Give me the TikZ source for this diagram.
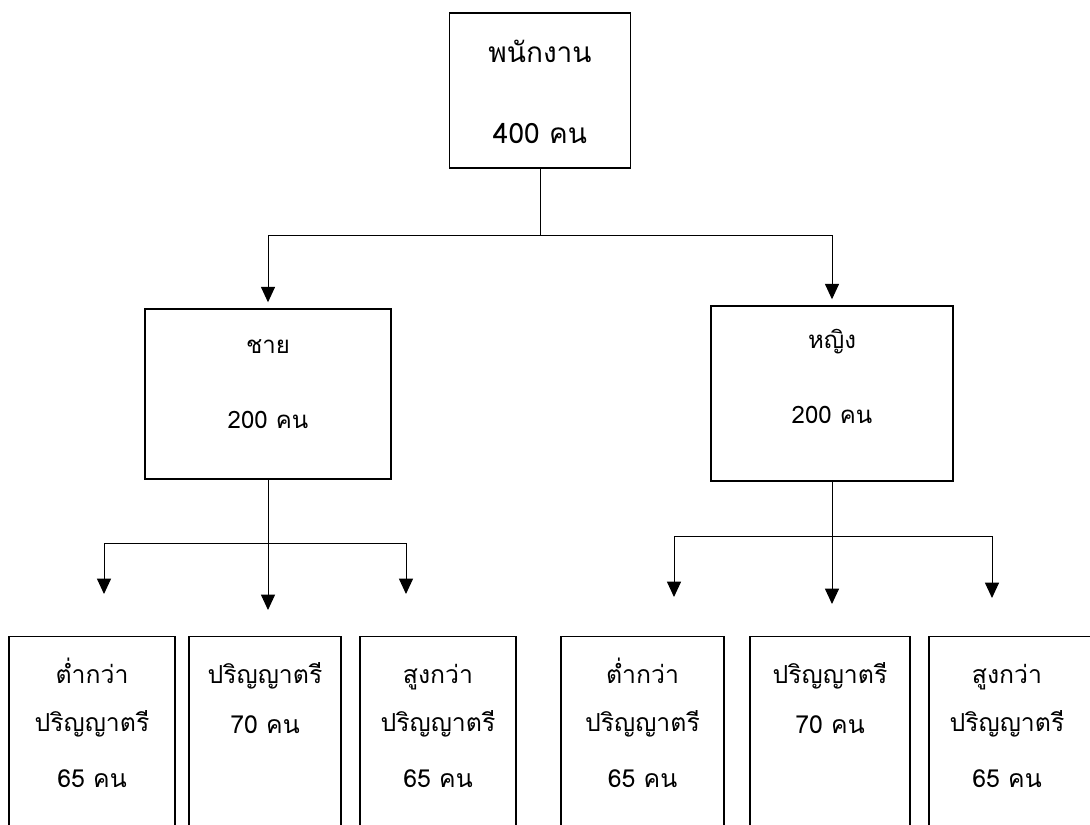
\documentclass[tikz,border=0pt]{standalone}
\usepackage{fontspec}
\newfontfamily\thaifont[Script=Thai]{Loma}
\usetikzlibrary{arrows.meta}
\tikzset{
  box/.style={draw,line width=1.1pt,inner sep=0pt},
  lbl/.style={font=\thaifont\fontsize{21}{24}\selectfont,anchor=base,inner sep=0pt},
  lblsmall/.style={lbl,font=\thaifont\fontsize{18}{21}\selectfont},
  lblbottom/.style={lbl,font=\thaifont\fontsize{18.6}{21}\selectfont},
}
\begin{document}
\begin{tikzpicture}[x=0.75pt,y=-0.75pt,>={Triangle[width=10.5pt,length=11.5pt]},line width=0.75pt]
	\useasboundingbox (0,0) rectangle (1090,825);
	\clip (0,0) rectangle (1090,825);
	% boxes
	\node[box,minimum width=181*0.75pt,minimum height=155*0.75pt] (top) at (540,90.5) {};
	\node[box,minimum width=246*0.75pt,minimum height=170*0.75pt] (male) at (268,394) {};
	\node[box,minimum width=242*0.75pt,minimum height=175*0.75pt] (female) at (832,393.5) {};
	\foreach \n/\cx/\w in {b1/92/166,b2/265/152,b3/438/156,b4/642.5/163,b5/830/160,b6/1020/182}
		\node[box,anchor=north,minimum width=\w*0.75pt,minimum height=300*0.75pt] (\n) at (\cx,636) {};
	% labels
	\node[lbl] (topA) at (540,62) {พนักงาน};
	\node[lbl] (topB) at (540,143) {400 คน};
	\node[lblsmall] (maleA) at (268,353) {ชาย};
	\node[lblsmall] (maleB) at (268,428) {200 คน};
	\node[lblsmall] (femaleA) at (832,348) {หญิง};
	\node[lblsmall] (femaleB) at (832,423) {200 คน};
	\node[lblbottom] (b1A) at (92,683) {ต่ำกว่า};
	\node[lblbottom] (b1B) at (92,731) {ปริญญาตรี};
	\node[lblbottom] (b1C) at (92,787) {65 คน};
	\node[lblbottom] (b2A) at (265,683) {ปริญญาตรี};
	\node[lblbottom] (b2B) at (265,733) {70 คน};
	\node[lblbottom] (b3A) at (438,683) {สูงกว่า};
	\node[lblbottom] (b3B) at (438,731) {ปริญญาตรี};
	\node[lblbottom] (b3C) at (438,787) {65 คน};
	\node[lblbottom] (b4A) at (642.5,683) {ต่ำกว่า};
	\node[lblbottom] (b4B) at (642.5,731) {ปริญญาตรี};
	\node[lblbottom] (b4C) at (642.5,787) {65 คน};
	\node[lblbottom] (b5A) at (830,683) {ปริญญาตรี};
	\node[lblbottom] (b5B) at (830,733) {70 คน};
	\node[lblbottom] (b6A) at (1007,683) {สูงกว่า};
	\node[lblbottom] (b6B) at (1007,731) {ปริญญาตรี};
	\node[lblbottom] (b6C) at (1007,787) {65 คน};
	% connectors
	\coordinate (j0) at (540,235);
	\draw (top.south) -- (j0);
	\draw[->,shorten >=4.5pt] (j0) -| (male.north);
	\draw[->,shorten >=4.5pt] (j0) -| (female.north);
	\coordinate (jm) at (268,543);
	\coordinate (m1) at (104,594);
	\coordinate (m2) at (268,610);
	\coordinate (m3) at (406,594);
	\draw (male.south) -- (jm);
	\draw[->] (jm) -| (m1);
	\draw[->] (jm) -- (m2);
	\draw[->] (jm) -| (m3);
	\coordinate (jf) at (832,536);
	\coordinate (f1) at (674,597);
	\coordinate (f2) at (832,604);
	\coordinate (f3) at (992,598);
	\draw (female.south) -- (jf);
	\draw[->] (jf) -| (f1);
	\draw[->] (jf) -- (f2);
	\draw[->] (jf) -| (f3);
\end{tikzpicture}
\end{document}
